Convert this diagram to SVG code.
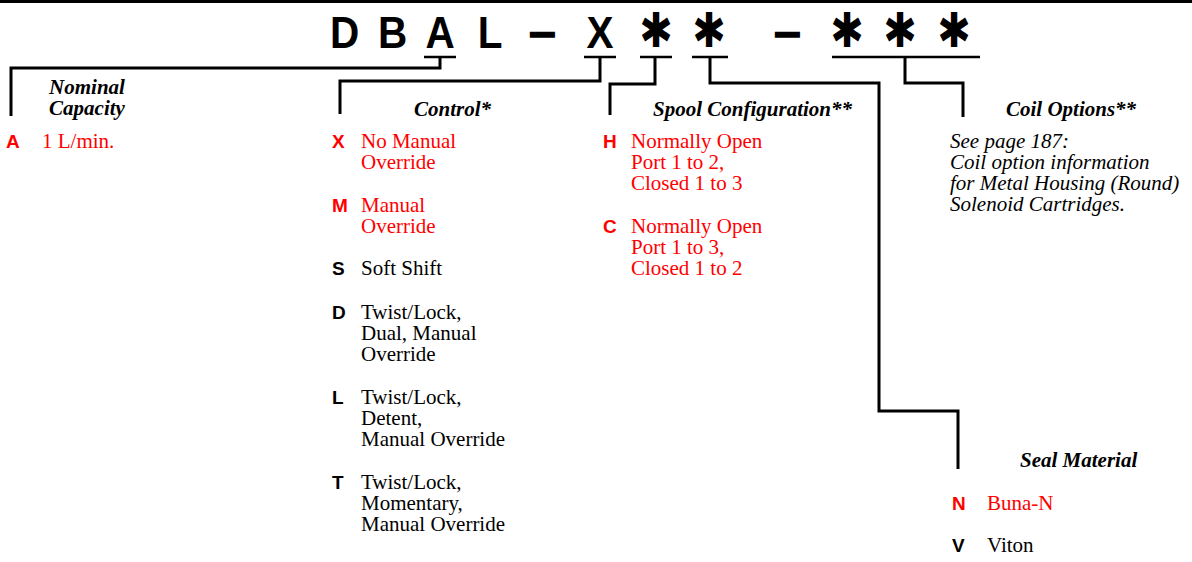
<svg xmlns="http://www.w3.org/2000/svg" width="1192" height="562" viewBox="0 0 1192 562">
<style>
.hd{font-family:"Liberation Sans",Arial,sans-serif;font-weight:bold;font-size:45px;fill:#000;text-anchor:middle}
.dash{font-family:"Liberation Sans",Arial,sans-serif;font-weight:bold;font-size:45px;fill:#000;stroke:#000;stroke-width:1.6;text-anchor:middle}
.ast{font-family:"DejaVu Sans",sans-serif;font-weight:bold;font-size:40px;fill:#000;text-anchor:middle}
.ttl{font-family:"Liberation Serif","Times New Roman",serif;font-weight:bold;font-style:italic;font-size:21px;fill:#000}
.bd{font-family:"Liberation Serif","Times New Roman",serif;font-size:21px;fill:#000}
.bdr{font-family:"Liberation Serif","Times New Roman",serif;font-size:21px;fill:#ff0000}
.it{font-family:"Liberation Serif","Times New Roman",serif;font-style:italic;font-size:21px;fill:#000}
.cd{font-family:"Liberation Sans",Arial,sans-serif;font-weight:bold;font-size:19px;fill:#000}
.cdr{font-family:"Liberation Sans",Arial,sans-serif;font-weight:bold;font-size:19px;fill:#ff0000}
.ln{fill:none;stroke:#000;stroke-width:3;stroke-linejoin:miter;stroke-linecap:butt}
.ul{fill:none;stroke:#000;stroke-width:2.5}
</style>
<rect x="0" y="0" width="1192" height="3" fill="#000"/>
<g id="model-code">
<text class="hd" transform="translate(344.5,48) scale(0.9,1)">D</text>
<text class="hd" transform="translate(392.5,48) scale(0.9,1)">B</text>
<text class="hd" transform="translate(440,48) scale(0.9,1)">A</text>
<text class="hd" transform="translate(490,48) scale(0.9,1)">L</text>
<text class="dash" transform="translate(542.5,47) scale(1.05,1)">–</text>
<text class="hd" transform="translate(600,48) scale(0.9,1)">X</text>
<text class="ast" transform="translate(656,0) scale(1,1.2)" y="39.5">✱</text>
<text class="ast" transform="translate(709,0) scale(1,1.2)" y="39.5">✱</text>
<text class="dash" transform="translate(787.5,47) scale(1.05,1)">–</text>
<text class="ast" transform="translate(847,0) scale(1,1.2)" y="39.5">✱</text>
<text class="ast" transform="translate(900,0) scale(1,1.2)" y="39.5">✱</text>
<text class="ast" transform="translate(954,0) scale(1,1.2)" y="39.5">✱</text>
<line class="ul" x1="424" y1="57" x2="456" y2="57"/>
<line class="ul" x1="584" y1="57" x2="616" y2="57"/>
<line class="ul" x1="640" y1="57" x2="672" y2="57"/>
<line class="ul" x1="692" y1="57" x2="728" y2="57"/>
<line class="ul" x1="832" y1="57" x2="980" y2="57"/>
</g>
<g id="connectors">
<path class="ln" d="M440,57 V68 H11 V116"/>
<path class="ln" d="M600,57 V81 H340 V114"/>
<path class="ln" d="M655,57 V84 H610 V115"/>
<path class="ln" d="M710,57 V83 H879 V411 H958 V469"/>
<path class="ln" d="M905,57 V83 H963 V117"/>
</g>
<g id="nominal-capacity">
<text class="ttl" x="87" y="94" text-anchor="middle">Nominal</text>
<text class="ttl" x="87" y="115" text-anchor="middle">Capacity</text>
<text class="cdr" x="6" y="148">A</text>
<text class="bdr" x="42" y="148">1 L/min.</text>
</g>
<g id="control">
<text class="ttl" x="414" y="116">Control*</text>
<text class="cdr" x="332" y="148">X</text>
<text class="bdr" x="361" y="148">No Manual</text>
<text class="bdr" x="361" y="169">Override</text>
<text class="cdr" x="332" y="212">M</text>
<text class="bdr" x="361" y="212">Manual</text>
<text class="bdr" x="361" y="233">Override</text>
<text class="cd" x="332" y="275">S</text>
<text class="bd" x="361" y="275">Soft Shift</text>
<text class="cd" x="332" y="319">D</text>
<text class="bd" x="361" y="319">Twist/Lock,</text>
<text class="bd" x="361" y="340">Dual, Manual</text>
<text class="bd" x="361" y="361">Override</text>
<text class="cd" x="332" y="404">L</text>
<text class="bd" x="361" y="404">Twist/Lock,</text>
<text class="bd" x="361" y="425">Detent,</text>
<text class="bd" x="361" y="446">Manual Override</text>
<text class="cd" x="332" y="489">T</text>
<text class="bd" x="361" y="489">Twist/Lock,</text>
<text class="bd" x="361" y="510">Momentary,</text>
<text class="bd" x="361" y="531">Manual Override</text>
</g>
<g id="spool-configuration">
<text class="ttl" x="653" y="116">Spool Configuration**</text>
<text class="cdr" x="603" y="148">H</text>
<text class="bdr" x="631" y="148">Normally Open</text>
<text class="bdr" x="631" y="169">Port 1 to 2,</text>
<text class="bdr" x="631" y="190">Closed 1 to 3</text>
<text class="cdr" x="603" y="233">C</text>
<text class="bdr" x="631" y="233">Normally Open</text>
<text class="bdr" x="631" y="254">Port 1 to 3,</text>
<text class="bdr" x="631" y="275">Closed 1 to 2</text>
</g>
<g id="coil-options">
<text class="ttl" x="1006" y="116">Coil Options**</text>
<text class="it" x="950" y="148">See page 187:</text>
<text class="it" x="950" y="169">Coil option information</text>
<text class="it" x="950" y="190">for Metal Housing (Round)</text>
<text class="it" x="950" y="211">Solenoid Cartridges.</text>
</g>
<g id="seal-material">
<text class="ttl" x="1020" y="467">Seal Material</text>
<text class="cdr" x="952" y="510">N</text>
<text class="bdr" x="987" y="510">Buna-N</text>
<text class="cd" x="952" y="552">V</text>
<text class="bd" x="987" y="552">Viton</text>
</g>
</svg>
